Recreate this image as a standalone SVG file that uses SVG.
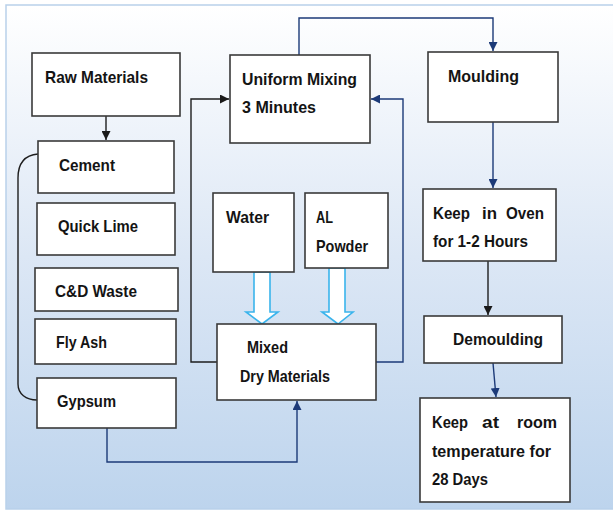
<svg xmlns="http://www.w3.org/2000/svg" width="613" height="512" viewBox="0 0 613 512">
<defs>
<linearGradient id="bg" x1="0" y1="0" x2="0" y2="1">
<stop offset="0" stop-color="#ffffff"/>
<stop offset="0.5" stop-color="#dce7f5"/>
<stop offset="1" stop-color="#bdd4ed"/>
</linearGradient>
<marker id="ab" viewBox="0 0 10 10" refX="10" refY="5" markerWidth="9" markerHeight="9" markerUnits="userSpaceOnUse" orient="auto"><path d="M0,0 L10,5 L0,10 Z" fill="#1a1a1a"/></marker>
<marker id="an" viewBox="0 0 10 10" refX="10" refY="5" markerWidth="9" markerHeight="9" markerUnits="userSpaceOnUse" orient="auto"><path d="M0,0 L10,5 L0,10 Z" fill="#1c3a78"/></marker>
<style>
.box{fill:#ffffff;stroke:#3a3a3a;stroke-width:1.6}
.t{font-family:"Liberation Sans",Arial,sans-serif;font-weight:bold;font-size:17px;fill:#141414}
.cb{fill:none;stroke:#1e1e1e;stroke-width:1.4}
.cn{fill:none;stroke:#1c3a78;stroke-width:1.4}
.blk{fill:#ffffff;stroke:#3ab4ec;stroke-width:1.6}
</style>
</defs>
<rect x="0" y="0" width="613" height="512" fill="#ffffff"/>
<rect x="6" y="5" width="610" height="504" fill="url(#bg)" stroke="#b9d1ea" stroke-width="1.5"/>

<g id="connectors">
<path class="cb" d="M106,116 V140" marker-end="url(#ab)"/>
<path class="cb" d="M38,154 C26,155 18,162 18,178 L18,384 C18,394 26,400 37,400"/>
<path class="cb" d="M217,362 H191 V99 H229" marker-end="url(#ab)"/>
<path class="cn" d="M376,362 H403 V99 H371" marker-end="url(#an)"/>
<path class="cn" d="M299,55 V18 H493 V51" marker-end="url(#an)"/>
<path class="cn" d="M493,122 V188" marker-end="url(#an)"/>
<path class="cb" d="M488,261 V315" marker-end="url(#ab)"/>
<path class="cn" d="M493,363 L496,397" marker-end="url(#an)"/>
<path class="cn" d="M107,428 V462 H297 V401" marker-end="url(#an)"/>
<path class="blk" d="M254,272 V312 H246 L262,324 L278,312 H270 V272 Z"/>
<path class="blk" d="M329,268 V312 H322 L338,324 L353,312 H345 V268 Z"/>
</g>

<g id="raw-materials">
<rect class="box" x="32" y="53" width="148" height="63"/>
<text class="t" x="45" y="83" textLength="103" lengthAdjust="spacingAndGlyphs">Raw Materials</text>
</g>
<g id="uniform-mixing">
<rect class="box" x="230" y="55" width="140" height="88"/>
<text class="t" x="242" y="85" textLength="115" lengthAdjust="spacingAndGlyphs">Uniform Mixing</text>
<text class="t" x="242" y="113" textLength="74" lengthAdjust="spacingAndGlyphs">3 Minutes</text>
</g>
<g id="moulding">
<rect class="box" x="428" y="52" width="130" height="70"/>
<text class="t" x="448" y="82" textLength="71" lengthAdjust="spacingAndGlyphs">Moulding</text>
</g>
<g id="cement">
<rect class="box" x="38" y="141" width="136" height="52"/>
<text class="t" x="59" y="171" textLength="56" lengthAdjust="spacingAndGlyphs">Cement</text>
</g>
<g id="quick-lime">
<rect class="box" x="37" y="203" width="138" height="52"/>
<text class="t" x="58" y="232" textLength="80" lengthAdjust="spacingAndGlyphs">Quick Lime</text>
</g>
<g id="cd-waste">
<rect class="box" x="35" y="268" width="143" height="43"/>
<text class="t" x="55" y="297" textLength="82" lengthAdjust="spacingAndGlyphs">C&amp;D Waste</text>
</g>
<g id="fly-ash">
<rect class="box" x="35" y="319" width="141" height="45"/>
<text class="t" x="56" y="348" textLength="51" lengthAdjust="spacingAndGlyphs">Fly Ash</text>
</g>
<g id="gypsum">
<rect class="box" x="37" y="378" width="139" height="50"/>
<text class="t" x="57" y="407" textLength="59" lengthAdjust="spacingAndGlyphs">Gypsum</text>
</g>
<g id="water">
<rect class="box" x="213" y="193" width="81" height="79"/>
<text class="t" x="226" y="223" textLength="43" lengthAdjust="spacingAndGlyphs">Water</text>
</g>
<g id="al-powder">
<rect class="box" x="305" y="193" width="83" height="75"/>
<text class="t" x="316" y="223" textLength="17" lengthAdjust="spacingAndGlyphs">AL</text>
<text class="t" x="316" y="252" textLength="52" lengthAdjust="spacingAndGlyphs">Powder</text>
</g>
<g id="mixed-dry-materials">
<rect class="box" x="217" y="324" width="159" height="76"/>
<text class="t" x="247" y="353" textLength="41" lengthAdjust="spacingAndGlyphs">Mixed</text>
<text class="t" x="240" y="382" textLength="90" lengthAdjust="spacingAndGlyphs">Dry Materials</text>
</g>
<g id="keep-in-oven">
<rect class="box" x="423" y="189" width="133" height="72"/>
<text class="t" x="433" y="219" textLength="37" lengthAdjust="spacingAndGlyphs">Keep</text>
<text class="t" x="482" y="219" textLength="15" lengthAdjust="spacingAndGlyphs">in</text>
<text class="t" x="506" y="219" textLength="38" lengthAdjust="spacingAndGlyphs">Oven</text>
<text class="t" x="433" y="247" textLength="95" lengthAdjust="spacingAndGlyphs">for 1-2 Hours</text>
</g>
<g id="demoulding">
<rect class="box" x="424" y="316" width="138" height="47"/>
<text class="t" x="453" y="345" textLength="90" lengthAdjust="spacingAndGlyphs">Demoulding</text>
</g>
<g id="keep-at-room">
<rect class="box" x="420" y="398" width="150" height="104"/>
<text class="t" x="432" y="428" textLength="36" lengthAdjust="spacingAndGlyphs">Keep</text>
<text class="t" x="482" y="428" textLength="17" lengthAdjust="spacingAndGlyphs">at</text>
<text class="t" x="517" y="428" textLength="40" lengthAdjust="spacingAndGlyphs">room</text>
<text class="t" x="432" y="457" textLength="119" lengthAdjust="spacingAndGlyphs">temperature for</text>
<text class="t" x="432" y="485" textLength="56" lengthAdjust="spacingAndGlyphs">28 Days</text>
</g>
</svg>
